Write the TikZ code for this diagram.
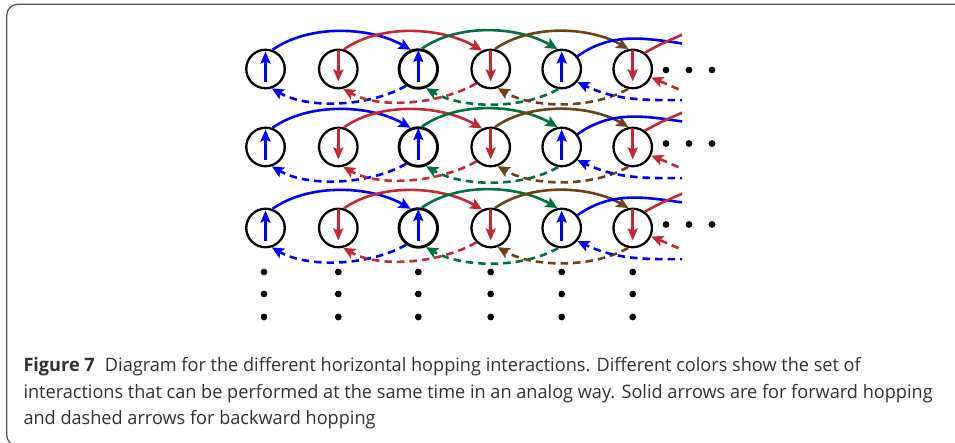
\documentclass[tikz,border=0pt]{standalone}
\usepackage{fontspec}
\setmainfont{Open Sans}[FakeStretch=0.98]
\usetikzlibrary{arrows.meta}
\definecolor{cblue}{RGB}{0,0,255}
\definecolor{cred}{RGB}{196,40,52}
\definecolor{cgreen}{RGB}{0,112,62}
\definecolor{cbrown}{RGB}{108,66,24}
\definecolor{framecol}{RGB}{85,85,85}
\definecolor{captxt}{RGB}{50,50,50}
\tikzset{
  site/.style={circle,draw=black,line width=2.3pt,minimum size=38.5pt,inner sep=0pt},
  sitebold/.style={site,line width=2.9pt},
  spin/.style={line width=2.8pt,-{Stealth[length=12pt,width=10pt,inset=2pt]}},
  fwd/.style={line width=2.6pt,-{Stealth[length=12pt,width=11pt,inset=2.5pt]}},
  fwdopen/.style={line width=2.6pt},
  bwd/.style={line width=2.6pt,dash pattern=on 7.5pt off 5pt,-{Stealth[length=12pt,width=11pt,inset=2.5pt]}},
  dotmark/.style={circle,fill=black,inner sep=0pt,minimum size=6.8pt},
  captionline/.style={anchor=base west,inner sep=0pt,text=captxt,font=\fontsize{18.5}{22}\selectfont},
}
\newcommand\hoprow[2]{%
  \node[site] (#1a) at (265.5,#2) {};
  \node[site] (#1b) at (338.3,#2) {};
  \node[sitebold] (#1c) at (418.3,#2) {};
  \node[site] (#1d) at (490.7,#2) {};
  \node[site] (#1e) at (561.7,#2) {};
  \node[site] (#1f) at (632.7,#2) {};
  \coordinate (#1s1) at (686,#2+25);
  \coordinate (#1s2) at (686,#2+36);
  \coordinate (#1s3) at (700,#2-31);
  \coordinate (#1s4) at (690,#2-25);
  \draw[spin,cblue] ([yshift=-13.5pt]#1a.center) -- ([yshift=17.5pt]#1a.center);
  \draw[spin,cred] ([yshift=19pt]#1b.center) -- ([yshift=-12.5pt]#1b.center);
  \draw[spin,cblue,line width=3.2pt] ([yshift=-13.5pt]#1c.center) -- ([yshift=19pt]#1c.center);
  \draw[spin,cred] ([yshift=19pt]#1d.center) -- ([yshift=-12.5pt]#1d.center);
  \draw[spin,cblue] ([yshift=-13.5pt]#1e.center) -- ([yshift=17.5pt]#1e.center);
  \draw[spin,cred] ([yshift=19pt]#1f.center) -- ([yshift=-12.5pt]#1f.center);
  \begin{scope}
    \clip (0,0) rectangle (682,443);
    \draw[fwd,cblue] (#1a.70) to[out=35,in=150,looseness=0.85] (#1c.112);
    \draw[fwd,cred] (#1b.74) to[out=35,in=150,looseness=0.85] (#1d.115);
    \draw[fwd,cgreen] (#1c.80) to[out=35,in=150,looseness=0.85] (#1e.102);
    \draw[fwd,cbrown] (#1d.78) to[out=35,in=150,looseness=0.85] (#1f.102);
    \draw[fwdopen,cblue] (#1e.39) to[out=35,in=172] (#1s1);
    \draw[fwdopen,cred] (#1f.53) to[out=30,in=204] (#1s2);
    \draw[bwd,cblue] (#1c.-126) to[out=-150,in=-30,looseness=0.8] (#1a.-72);
    \draw[bwd,cred] (#1d.-135) to[out=-150,in=-30,looseness=0.8] (#1b.-76);
    \draw[bwd,cgreen] (#1e.-100) to[out=-150,in=-30,looseness=0.8] (#1c.-68);
    \draw[bwd,cbrown] (#1f.-103) to[out=-150,in=-30,looseness=0.8] (#1d.-70);
    \draw[bwd,cblue] (#1s3) to[out=180,in=-25] (#1e.-40);
    \draw[bwd,cred] (#1s4) to[out=158,in=-22] (#1f.-25);
  \end{scope}
}
\begin{document}
\begin{tikzpicture}[x=1pt,y=1pt]
  \useasboundingbox (0,0) rectangle (955,443);
  \clip (0,0) rectangle (955,443);
  \fill[white] (0,0) rectangle (955,443);
  % frame
  \draw[framecol,line width=1.3pt,rounded corners=11pt] (960,438.7) -- (6.7,438.7) -- (6.7,-3) -- (40,-3);
  % rows
  \hoprow{p}{374}
  \hoprow{q}{296}
  \hoprow{r}{215}
  % dots to the right
  \foreach \yy in {373,299.5,218.5}
    \foreach \xx in {666,689,712}
      \node[dotmark] at (\xx,\yy) {};
  % dots below
  \foreach \xx in {264,338.3,418.3,490.7,561.7,632.7}
    \foreach \yy in {171,149,126}
      \node[dotmark] at (\xx,\yy) {};
  % caption
  \node[captionline] (cap1) at (23.3,71.3) {\textbf{Figure 7}\hspace{0.55em}Diagram for the different horizontal hopping interactions. Different colors show the set of};
  \node[captionline] (cap2) at (23.3,44.7) {interactions that can be performed at the same time in an analog way. Solid arrows are for forward hopping};
  \node[captionline] (cap3) at (23.3,18) {and dashed arrows for backward hopping};
\end{tikzpicture}
\end{document}
